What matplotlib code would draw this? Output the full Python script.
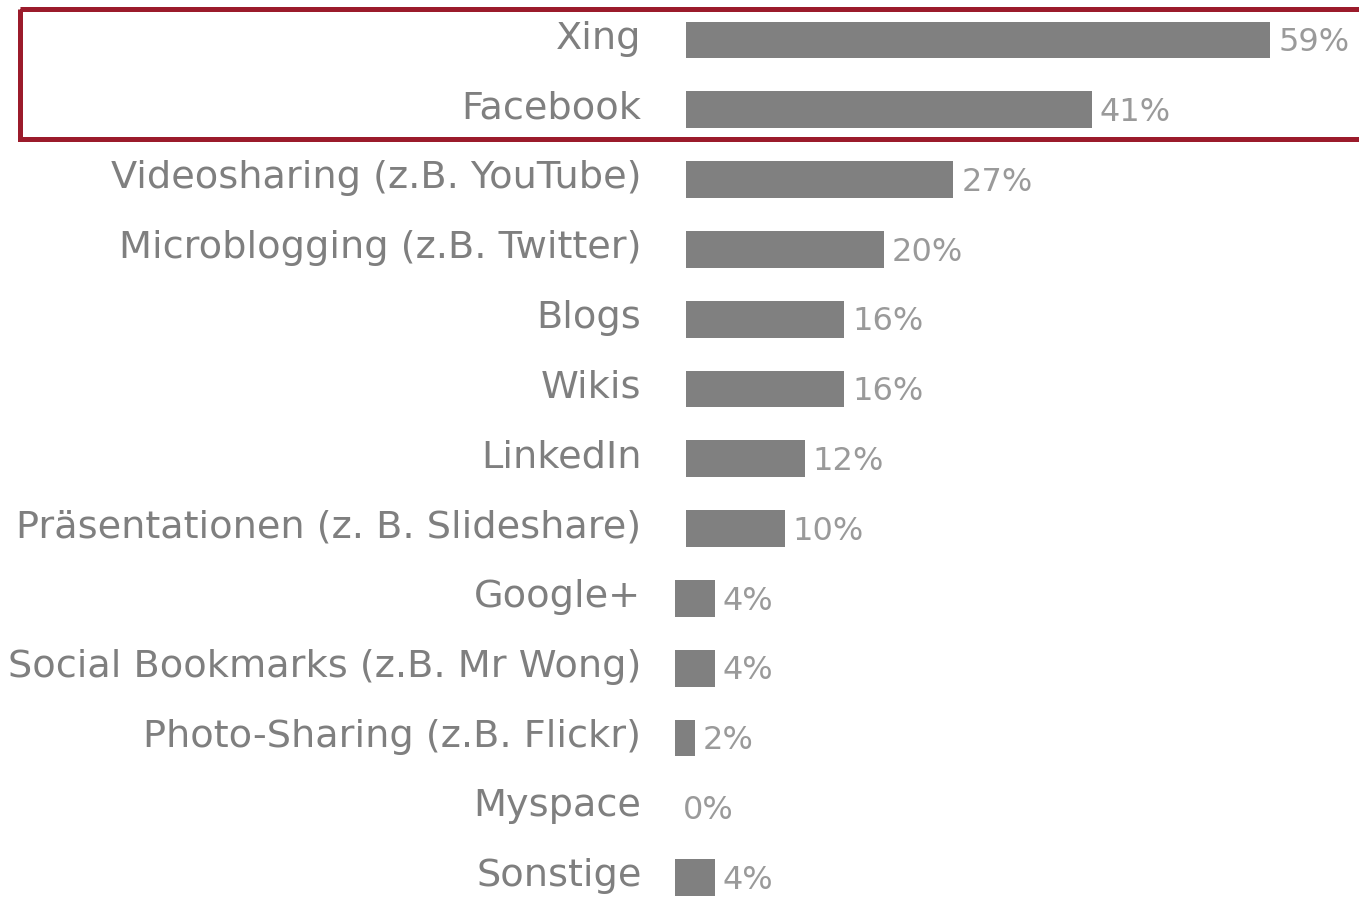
import matplotlib
matplotlib.use("Agg")
import matplotlib.pyplot as plt
import matplotlib.transforms as mtransforms
from matplotlib.patches import Rectangle
import numpy as np

# Daten
kategorien = ["Xing", "Facebook", "Videosharing (z.B. YouTube)",
              "Microblogging (z.B. Twitter)", "Blogs", "Wikis", "LinkedIn",
              "Präsentationen (z. B. Slideshare)", "Google+",
              "Social Bookmarks (z.B. Mr Wong)", "Photo-Sharing (z.B. Flickr)",
              "Myspace", "Sonstige"]
werte = [59, 41, 27, 20, 16, 16, 12, 10, 4, 4, 2, 0, 4]
labels = [f"{v}%" for v in werte]

W, H = 1359, 900
fig = plt.figure(figsize=(W / 100, H / 100), dpi=100)
fig.patch.set_facecolor("white")

# axes: x 1% ~ 9.9px, bars start at px 686
px = 9.9
ax = fig.add_axes([686 / W, 0, 1 - 686 / W, 1])
ax.set_xlim(0, (W - 686) / px)
row = 69.8
ax.set_ylim(12 + (H - 877.6) / row, -40 / row)
ax.axis("off")

y = np.arange(len(werte))
vals = np.array(werte)
# kleine Balken sitzen im Original etwas weiter links
lefts = np.where(vals < 5, -1.1, 0.0)
ax.barh(y, vals, left=lefts, height=0.53, color="#808080", clip_on=False)

for i, (k, v, l) in enumerate(zip(kategorien, vals, labels)):
    ax.text(-4.5, i - 0.02, k, ha="right", va="center", fontsize=27.5,
            color="#7f7f7f", clip_on=False)
    ax.text(lefts[i] + v + 0.8, i + 0.04, l, ha="left", va="center",
            fontsize=23, color="#9a9a9a", clip_on=False)

# roter Rahmen um Xing und Facebook
trans = mtransforms.blended_transform_factory(fig.transFigure, ax.transData)
box = Rectangle((20 / W, -0.437), 1.02, 1.855, transform=trans, fill=False,
                edgecolor="#9b1b2b", linewidth=3.6, clip_on=False)
fig.add_artist(box)

fig.savefig("out.png", dpi=100, facecolor="white")
